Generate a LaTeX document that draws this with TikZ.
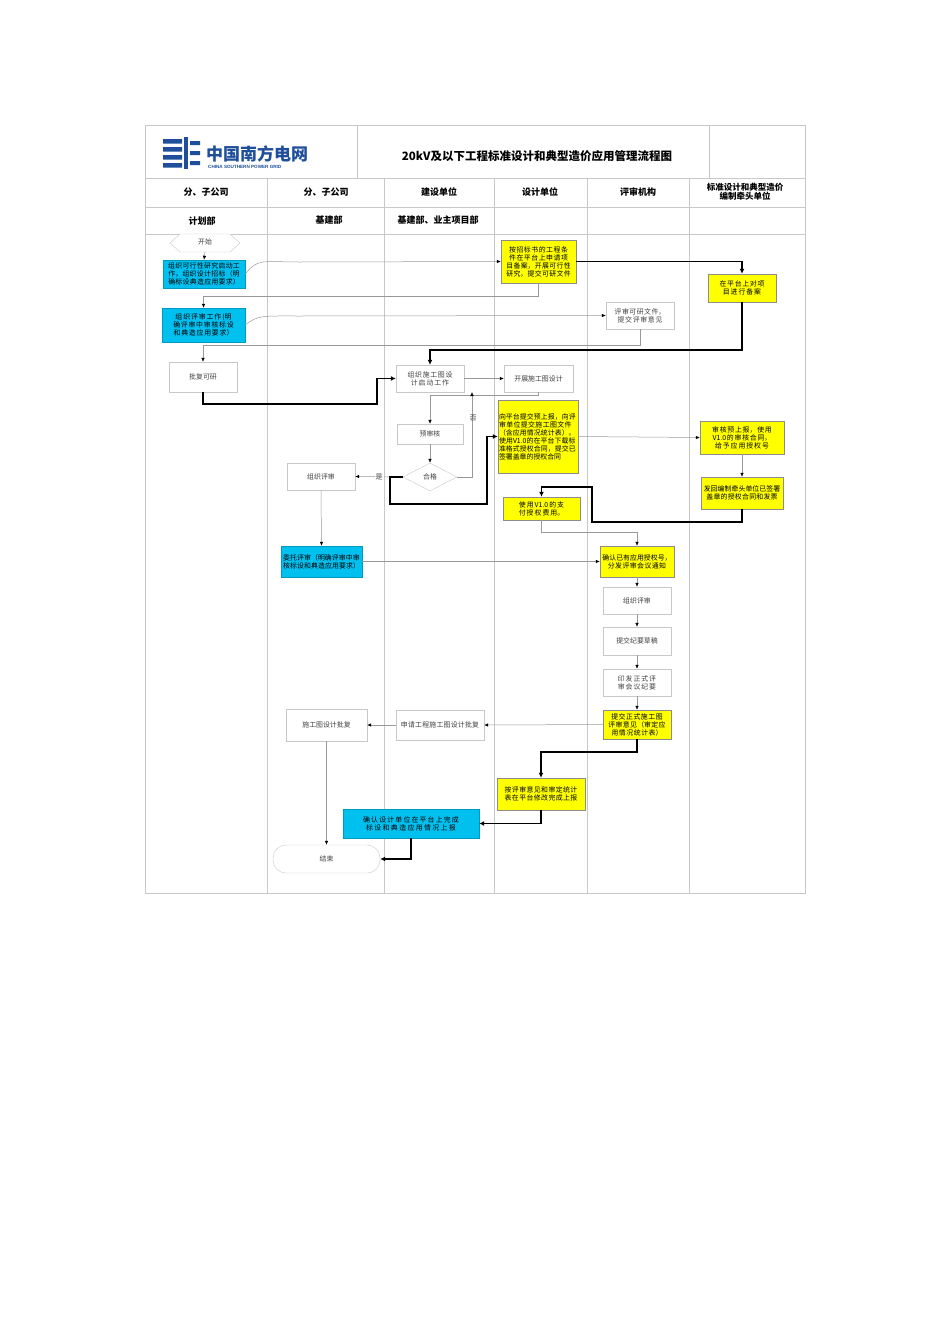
\documentclass[tikz,border=0pt]{standalone}
\usepackage{fontspec}
\setmainfont{Noto Sans CJK SC}
\newfontfamily\latf{Liberation Sans}
\XeTeXlinebreaklocale "zh"
\XeTeXlinebreakskip=0pt plus 1pt
\usetikzlibrary{arrows.meta,shapes.geometric,calc}
\definecolor{cy}{HTML}{00C0F0}
\definecolor{ye}{HTML}{FFFF00}
\definecolor{lg}{HTML}{C8C8C8}
\definecolor{logob}{HTML}{1F4E9A}
\tikzset{
 bx/.style={draw=lg,fill=white,font=\fontsize{6.9}{8}\selectfont,align=center,inner sep=1pt,text=black!75},
 ybx/.style={draw=black!45,fill=ye,font=\fontsize{6.9}{8}\selectfont,align=center,inner sep=1pt},
 cbx/.style={draw=cy!80!black,fill=cy,font=\fontsize{6.9}{8}\selectfont,align=center,inner sep=1pt},
 thin/.style={draw=black!40,line width=0.5pt,-{Latex[length=4pt,width=3.5pt,color=black]}},
 thick/.style={draw=black,line width=1.3pt,-{Latex[length=5pt,width=5pt]}},
 hdr/.style={font=\fontsize{9}{10.5}\selectfont\bfseries,align=center},
 grid/.style={draw=lg,line width=0.5pt}
}
\begin{document}
\begin{tikzpicture}[x=1pt,y=-1pt]
\useasboundingbox (0,0) rectangle (950,1344);
\draw[grid] (145,125) rectangle (805,893);
\draw[grid] (145,178) -- (805,178) (145,207) -- (805,207) (145,234) -- (805,234);
\draw[grid] (357,125) -- (357,178) (709,125) -- (709,178);
\foreach \x in {267,384,494,587,689} \draw[grid] (\x,178) -- (\x,893);
\fill[logob] (163,139) rectangle (182,143.5) (163,147) rectangle (182,151.5) (163,155) rectangle (182,159.5) (163,163) rectangle (182,167.5);
\fill[logob] (184,137) rectangle (188,169);
\fill[logob] (190,141) rectangle (200,145) (190,151) rectangle (200,155) (190,161) rectangle (200,165);
\node[anchor=west,text=logob,font=\fontsize{17}{17}\selectfont\bfseries,inner sep=0] (logo) at (206,154) {中国南方电网};
\node[anchor=west,text=logob,font=\latf\fontsize{4.6}{5}\selectfont\bfseries,inner sep=0] (logoe) at (208,167) {CHINA SOUTHERN POWER GRID};
\node[font=\fontsize{11.5}{13}\selectfont\bfseries] (title) at (537,156) {20kV及以下工程标准设计和典型造价应用管理流程图};
\node[hdr] (h1) at (206,192) {分、子公司};
\node[hdr] (h2) at (326,192) {分、子公司};
\node[hdr] (h3) at (439,192) {建设单位};
\node[hdr] (h4) at (540,192) {设计单位};
\node[hdr] (h5) at (638,192) {评审机构};
\node[hdr,font=\fontsize{8.5}{9.5}\selectfont\bfseries] (h6) at (745,192) {标准设计和典型造价\\编制牵头单位};
\node[hdr] (s1) at (202,221) {计划部};
\node[hdr] (s2) at (329,220) {基建部};
\node[hdr] (s3) at (438,220) {基建部、业主项目部};
\draw[lg,fill=white] (170,243) -- (180,234) -- (230,234) -- (240,243) -- (230,252) -- (180,252) -- cycle;
\node[font=\fontsize{6.9}{8}\selectfont,text=black!75] (startt) at (205,242) {开始};
\coordinate (startS) at (205,252);
\node[cbx,minimum width=82,minimum height=28,text width=80] (A1) at (204,274) {组织可行性研究启动工作，组织设计招标（明确标设典造应用要求）};
\node[cbx,minimum width=83,minimum height=34,text width=81] (A2) at (203.5,325) {组织评审工作(明确评审中审核标设和典造应用要求）};
\node[bx,minimum width=68,minimum height=30] (A3) at (203,377) {批复可研};
\node[ybx,minimum width=75,minimum height=43,text width=73] (D1) at (538.5,261.5) {按招标书的工程条件在平台上申请项目备案，开展可行性研究，提交可研文件};
\node[ybx,minimum width=68,minimum height=28,text width=64] (E1) at (742,288) {在平台上对项目进行备案};
\node[bx,minimum width=68,minimum height=27,text width=64] (R1) at (640,315.5) {评审可研文件，提交评审意见};
\node[bx,minimum width=68,minimum height=27,text width=64] (C1) at (430,378.5) {组织施工图设计启动工作};
\node[bx,minimum width=69,minimum height=27] (D2) at (538.5,378.5) {开展施工图设计};
\node[bx,minimum width=66,minimum height=20] (C2) at (430,434) {预审核};
\node[draw=lg,fill=white,diamond,aspect=2,minimum width=54,minimum height=28,inner sep=0,font=\fontsize{6.9}{8}\selectfont,text=black!75] (C3) at (430,477) {合格};
\node[bx,minimum width=68,minimum height=27] (B1) at (321,476.5) {组织评审};
\node[ybx,minimum width=80,minimum height=73,text width=78,align=left] (D3) at (538,436.5) {向平台提交预上报，向评审单位提交施工图文件（含应用情况统计表）。使用V1.0的在平台下载标准格式授权合同，提交已签署盖章的授权合同};
\node[ybx,minimum width=84,minimum height=33,text width=80] (E2) at (742,437.5) {审核预上报，使用V1.0的审核合同，给予应用授权号};
\node[ybx,minimum width=82,minimum height=32,text width=78] (E3) at (742,493) {发回编制牵头单位已签署盖章的授权合同和发票};
\node[ybx,minimum width=77,minimum height=23,text width=73] (D4) at (541.5,508.5) {使用V1.0的支付授权费用。};
\node[cbx,minimum width=81,minimum height=31,text width=79] (B2) at (321.5,561.5) {委托评审（明确评审中审核标设和典造应用要求）};
\node[ybx,minimum width=74,minimum height=31,text width=70] (R2) at (637,561.5) {确认已有应用授权号，分发评审会议通知};
\node[bx,minimum width=68,minimum height=27] (R3) at (637,600.5) {组织评审};
\node[bx,minimum width=68,minimum height=28] (R4) at (637,641) {提交纪要草稿};
\node[bx,minimum width=68,minimum height=27,text width=64] (R5) at (637,682.5) {印发正式评审会议纪要};
\node[ybx,minimum width=68,minimum height=29,text width=66] (R6) at (637,724.5) {提交正式施工图评审意见（审定应用情况统计表）};
\node[bx,minimum width=88,minimum height=30,text width=84] (C4) at (440,725) {申请工程施工图设计批复};
\node[bx,minimum width=81,minimum height=32] (B3) at (326.5,725) {施工图设计批复};
\node[ybx,minimum width=88,minimum height=32,text width=84] (D5) at (541,794) {按评审意见和审定统计表在平台修改完成上报};
\node[cbx,minimum width=136,minimum height=29,text width=128] (B4) at (411,823.5) {确认设计单位在平台上完成标设和典造应用情况上报};
\node[draw=lg,fill=white,rounded corners=13pt,minimum width=107,minimum height=28,font=\fontsize{6.9}{8}\selectfont,text=black!75] (END) at (326.5,859) {结束};
\draw[thin] (startS) -- (A1.north);
\draw[thin] (A1.east) .. controls (258,258) and (262,262) .. (300,262) -- (D1.west);
\draw[thin] (D1.south) -- (538.5,296) -| (A2.north);
\draw[thick] (D1.east) -| (E1.north);
\draw[thin] (A2.east) .. controls (258,315) and (262,316) .. (300,316) -- (R1.west);
\draw[thin] (R1.south) -- (640,345) -| (A3.north);
\draw[thick] (E1.south) -- (742,350) -| (C1.north);
\draw[thick] (A3.south) -- (203,404) -- (377,404) -- (377,378.5) -- (C1.west);
\draw[thin] (C1.east) -- (D2.west);
\draw[thin] (D2.south) -- (538.5,395) -| (C2.north);
\draw[thin] (C2.south) -- (C3.north);
\coordinate (noend) at (472,392);
\draw[thin] (C3.east) -- (472,477) -- (noend);
\node[font=\fontsize{7}{8}\selectfont,text=black!75] (no) at (473,418) {否};
\draw[thin] (C3.west) -- (B1.east);
\node[font=\fontsize{7}{8}\selectfont,fill=white,inner sep=1pt,text=black!75] (yes) at (379,477) {是};
\draw[thick] (C3.west) -- (390,477) -- (390,504) -- (487,504) -- (487,436.5) -- (D3.west);
\draw[thin] (D3.east) -- (E2.west);
\draw[thin] (E2.south) -- (E3.north);
\draw[thick] (E3.south) -- (742,522) -- (592,522) -- (592,487) -| (D4.north);
\draw[thin] (D4.south) -- (541.5,532) -| (R2.north);
\draw[thin] (B1.south) -- (B2.north);
\draw[thin] (B2.east) -- (R2.west);
\draw[thin] (R2.south) -- (R3.north);
\draw[thin] (R3.south) -- (R4.north);
\draw[thin] (R4.south) -- (R5.north);
\draw[thin] (R5.south) -- (R6.north);
\draw[thin] (R6.west) -- (C4.east);
\draw[thin] (C4.west) -- (B3.east);
\draw[thick] (R6.south) -- (637,752) -| (D5.north);
\draw[thick] (D5.south) |- (B4.east);
\draw[thick] (B4.south) |- (END.east);
\draw[thin] (B3.south) -- (END.north);
\end{tikzpicture}
\end{document}
